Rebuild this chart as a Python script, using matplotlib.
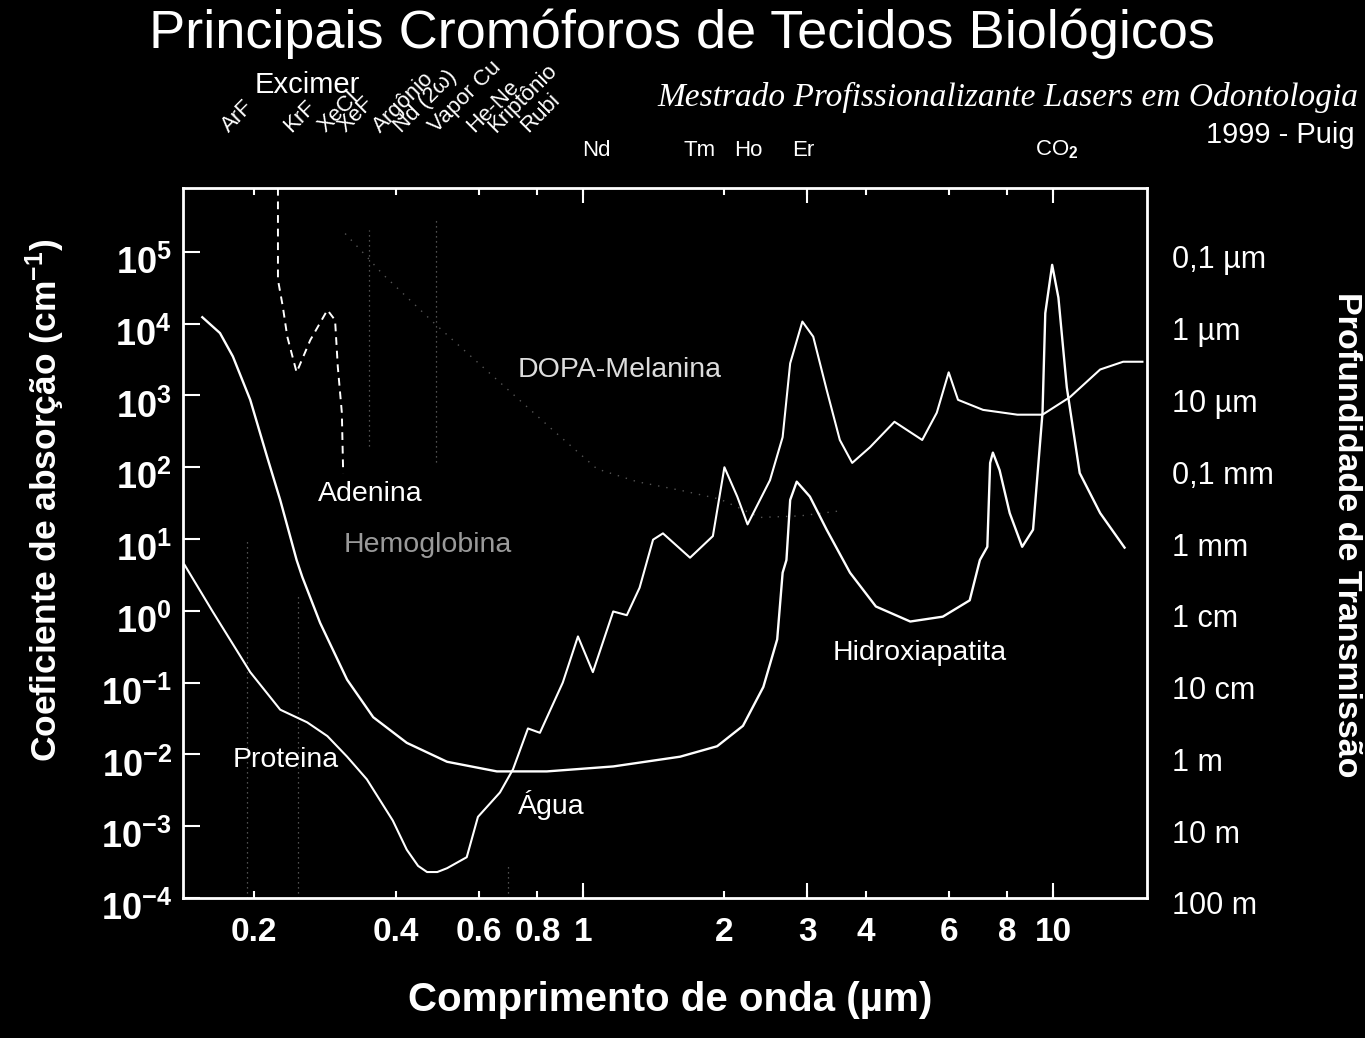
"""Principais cromóforos de tecidos biológicos: absorption vs wavelength."""

import matplotlib

matplotlib.use("Agg")

import matplotlib.pyplot as plt
from matplotlib.transforms import ScaledTranslation
from matplotlib.ticker import FixedLocator, NullFormatter, NullLocator

plt.rcParams["font.family"] = ["Liberation Sans", "DejaVu Sans"]
plt.rcParams["mathtext.fontset"] = "custom"
plt.rcParams["mathtext.rm"] = "Liberation Sans"
plt.rcParams["mathtext.bf"] = "Liberation Sans:bold"
plt.rcParams["mathtext.default"] = "bf"

# water (Água), wavelength in µm, absorption in cm^-1
WATER_WL = [0.142, 0.163, 0.196, 0.227, 0.259, 0.286, 0.315, 0.347, 0.394, 0.422,
            0.446, 0.466, 0.49, 0.514, 0.566, 0.598, 0.666, 0.71, 0.764, 0.81,
            0.906, 0.976, 1.05, 1.16, 1.24, 1.32, 1.41, 1.48, 1.69, 1.89,
            2.0, 2.13, 2.24, 2.5, 2.66, 2.76, 2.93, 3.09, 3.3, 3.52,
            3.74, 4.08, 4.6, 5.27, 5.66, 6.0, 6.28, 7.1, 8.4, 9.5,
            10.87, 12.6, 14.1, 15.5]
WATER_ABS = [4.4, 0.98, 0.14, 0.042, 0.028, 0.018, 0.0093, 0.0045, 0.0012, 4.7e-4,
             2.8e-4, 2.3e-4, 2.3e-4, 2.6e-4, 3.7e-4, 1.35e-3, 2.95e-3, 6.2e-3, 0.023, 0.020,
             0.10, 0.44, 0.14, 0.98, 0.87, 2.1, 9.8, 12, 5.5, 11,
             100, 39, 16, 66, 263, 2800, 10700, 6600, 1200, 240,
             115, 190, 430, 240, 575, 2100, 870, 630, 540, 540,
             950, 2300, 2950, 2950]

# hidroxiapatita
HAP_WL = [0.155, 0.169, 0.18, 0.196, 0.213, 0.227, 0.246, 0.253, 0.276, 0.315,
          0.358, 0.422, 0.514, 0.656, 0.838, 1.16, 1.61, 1.93, 2.19, 2.42,
          2.59, 2.66, 2.71, 2.76, 2.85, 3.04, 3.3, 3.7, 4.2, 4.97,
          5.83, 6.65, 6.99, 7.25, 7.35, 7.45, 7.7, 8.09, 8.6, 9.07,
          9.5, 9.63, 9.96, 10.27, 10.7, 11.4, 12.6, 14.2]
HAP_ABS = [12300, 7400, 3500, 870, 138, 35, 5.1, 2.95, 0.68, 0.11,
           0.033, 0.0145, 0.0079, 0.0058, 0.0058, 0.0068, 0.0093, 0.013, 0.025, 0.087,
           0.40, 3.4, 5.1, 35, 63, 39, 13.5, 3.4, 1.15, 0.71,
           0.83, 1.4, 5.1, 7.8, 115, 160, 91, 23, 7.8, 13.5,
           575, 14000, 66000, 23000, 1300, 83, 23, 7.6]

# adenina (dashed)
ADENINE_WL = [0.2245, 0.2245, 0.230, 0.235, 0.246, 0.263, 0.286, 0.297, 0.301, 0.307, 0.309]
ADENINE_ABS = [7.8e5, 4.1e4, 1.7e4, 6600, 2100, 5900, 15500, 11200, 2500, 575, 83]

# DOPA-melanina (faint dotted remnant)
MELANIN_WL = [0.312, 0.344, 0.375, 0.484, 0.556, 0.863, 1.071, 1.303, 1.632, 1.956, 2.38, 2.896, 3.575]
MELANIN_ABS = [1.8e5, 9.1e4, 4.9e4, 1.0e4, 4400, 330, 95, 63, 47, 36, 20, 21, 25]

# faint laser marker lines: wavelength, lower / upper absorption reached
MARKER_WL = [0.193, 0.248, 0.351, 0.488, 0.694]
MARKER_LOW = [1e-4, 1e-4, 200, 120, 1e-4]
MARKER_HIGH = [10, 1.6, 2e5, 3e5, 3e-4]

XTICKS = [0.2, 0.4, 0.6, 0.8, 1, 2, 3, 4, 6, 8, 10]
XTICK_LABELS = ["0.2", "0.4", "0.6", "0.8", "1", "2", "3", "4", "6", "8", "10"]
LONG_XTICKS = [1, 3, 10]
Y_EXPONENTS = [5, 4, 3, 2, 1, 0, -1, -2, -3, -4]
DEPTH_LABELS = ["0,1 µm", "1 µm", "10 µm", "0,1 mm", "1 mm", "1 cm", "10 cm", "1 m", "10 m", "100 m"]

ROTATED_LASERS = ["ArF", "KrF", "XeCl", "XeF", "Argônio", "Nd (2ω)", "Vapor Cu", "He-Ne", "Kriptônio", "Rubi"]
ROTATED_X_PX = [229, 291, 325, 345, 380, 401, 436, 474, 496, 528]
FLAT_LASERS = ["Nd", "Tm", "Ho", "Er", "CO$_2$"]
FLAT_X_PX = [596, 700, 748, 803, 1057]

W, H = 1365, 1038


def fx(px):
    return px / W


def fy(py):
    return 1 - py / H


fig = plt.figure(figsize=(W / 100, H / 100), dpi=100, facecolor="black")
ax = fig.add_axes([fx(183), fy(898), (1147 - 183) / W, (898 - 188) / H])
ax.set_facecolor("black")
ax.set_xscale("log")
ax.set_yscale("log")
ax.set_xlim(0.141, 15.85)
ax.set_ylim(1e-4, 10 ** 5.89)

for wl, lo, hi in zip(MARKER_WL, MARKER_LOW, MARKER_HIGH):
    ax.plot([wl, wl], [lo, hi], color="#6a6a6a", lw=0.9, ls=(0, (1, 3)))
ax.plot(MELANIN_WL, MELANIN_ABS, color="#555555", lw=1.0, ls=(0, (1, 5)))
ax.plot(ADENINE_WL, ADENINE_ABS, color="white", lw=1.4, ls=(0, (4, 3)))
ax.plot(HAP_WL, HAP_ABS, color="white", lw=1.7)
ax.plot(WATER_WL, WATER_ABS, color="white", lw=1.5)

for side in ax.spines.values():
    side.set_color("white")
    side.set_linewidth(2)

ax.set_xticks(XTICKS)
ax.set_xticklabels(XTICK_LABELS, fontsize=24, fontweight="bold", color="white")
ax.xaxis.set_minor_locator(FixedLocator(LONG_XTICKS))
ax.xaxis.set_minor_formatter(NullFormatter())
ax.xaxis.remove_overlapping_locs = False
ax.tick_params(axis="x", which="major", direction="in", length=5, width=1.5,
               top=True, bottom=True, colors="white", pad=14)
ax.tick_params(axis="x", which="minor", direction="in", length=11, width=1.5,
               top=True, bottom=True, colors="white")

ax.set_yticks([10.0 ** e for e in Y_EXPONENTS])
ax.set_yticklabels([rf"$10^{{{e}}}$" for e in Y_EXPONENTS], fontsize=26, color="white")
ax.yaxis.set_minor_locator(NullLocator())
ax.tick_params(axis="y", direction="in", length=12, width=1.5, left=True, right=True,
               colors="white", pad=8)
shift_left = ScaledTranslation(0, -8 / 100, fig.dpi_scale_trans)
for lab in ax.get_yticklabels():
    lab.set_transform(lab.get_transform() + shift_left)

ax2 = ax.twinx()
ax2.set_yscale("log")
ax2.set_ylim(ax.get_ylim())
ax2.set_yticks([10.0 ** e for e in Y_EXPONENTS])
ax2.set_yticklabels(DEPTH_LABELS, fontsize=22, color="white")
ax2.yaxis.set_minor_locator(NullLocator())
ax2.tick_params(axis="y", length=0, pad=18, colors="white")
for side in ax2.spines.values():
    side.set_visible(False)
shift_right = ScaledTranslation(0, -5 / 100, fig.dpi_scale_trans)
for lab in ax2.get_yticklabels():
    lab.set_transform(lab.get_transform() + shift_right)

# curve labels
ax.text(0.727, 2300, "DOPA-Melanina", fontsize=20.5, color="#dddddd", va="center")
ax.text(0.273, 42, "Adenina", fontsize=20.5, color="white", va="center")
ax.text(0.309, 8.3, "Hemoglobina", fontsize=20.5, color="#9a9a9a", va="center")
ax.text(0.180, 0.0083, "Proteina", fontsize=20.5, color="white", va="center")
ax.text(0.727, 0.002, "Água", fontsize=20.5, color="white", va="center")
ax.text(3.39, 0.26, "Hidroxiapatita", fontsize=20.5, color="white", va="center")

# titles and annotations
fig.text(fx(682), fy(48), "Principais Cromóforos de Tecidos Biológicos",
         ha="center", va="baseline", fontsize=39, color="white")
fig.text(fx(307), fy(85), "Excimer", ha="center", va="center", fontsize=21, color="white")
fig.text(fx(1358), fy(97), "Mestrado Profissionalizante Lasers em Odontologia",
         ha="right", va="center", fontsize=24, color="white",
         family="Liberation Serif", style="italic")
fig.text(fx(1355), fy(135), "1999 - Puig", ha="right", va="center", fontsize=21, color="white")

for name, px in zip(ROTATED_LASERS, ROTATED_X_PX):
    fig.text(fx(px), fy(133), name, rotation=45, rotation_mode="anchor",
             ha="left", va="baseline", fontsize=16, color="white")
for name, px in zip(FLAT_LASERS, FLAT_X_PX):
    fig.text(fx(px), fy(150), name, ha="center", va="center", fontsize=16, color="white")

fig.text(fx(45), fy(500), "Coeficiente de absorção (cm$^{-1}$)", rotation=90,
         ha="center", va="center", fontsize=25.5, fontweight="bold", color="white")
fig.text(fx(1347), fy(535), "Profundidade de Transmissão", rotation=270,
         ha="center", va="center", fontsize=24.5, fontweight="bold", color="white")
fig.text(fx(670), fy(1000), "Comprimento de onda (µm)", ha="center", va="center",
         fontsize=29, fontweight="bold", color="white")

fig.savefig("out.png", dpi=100, facecolor="black")
